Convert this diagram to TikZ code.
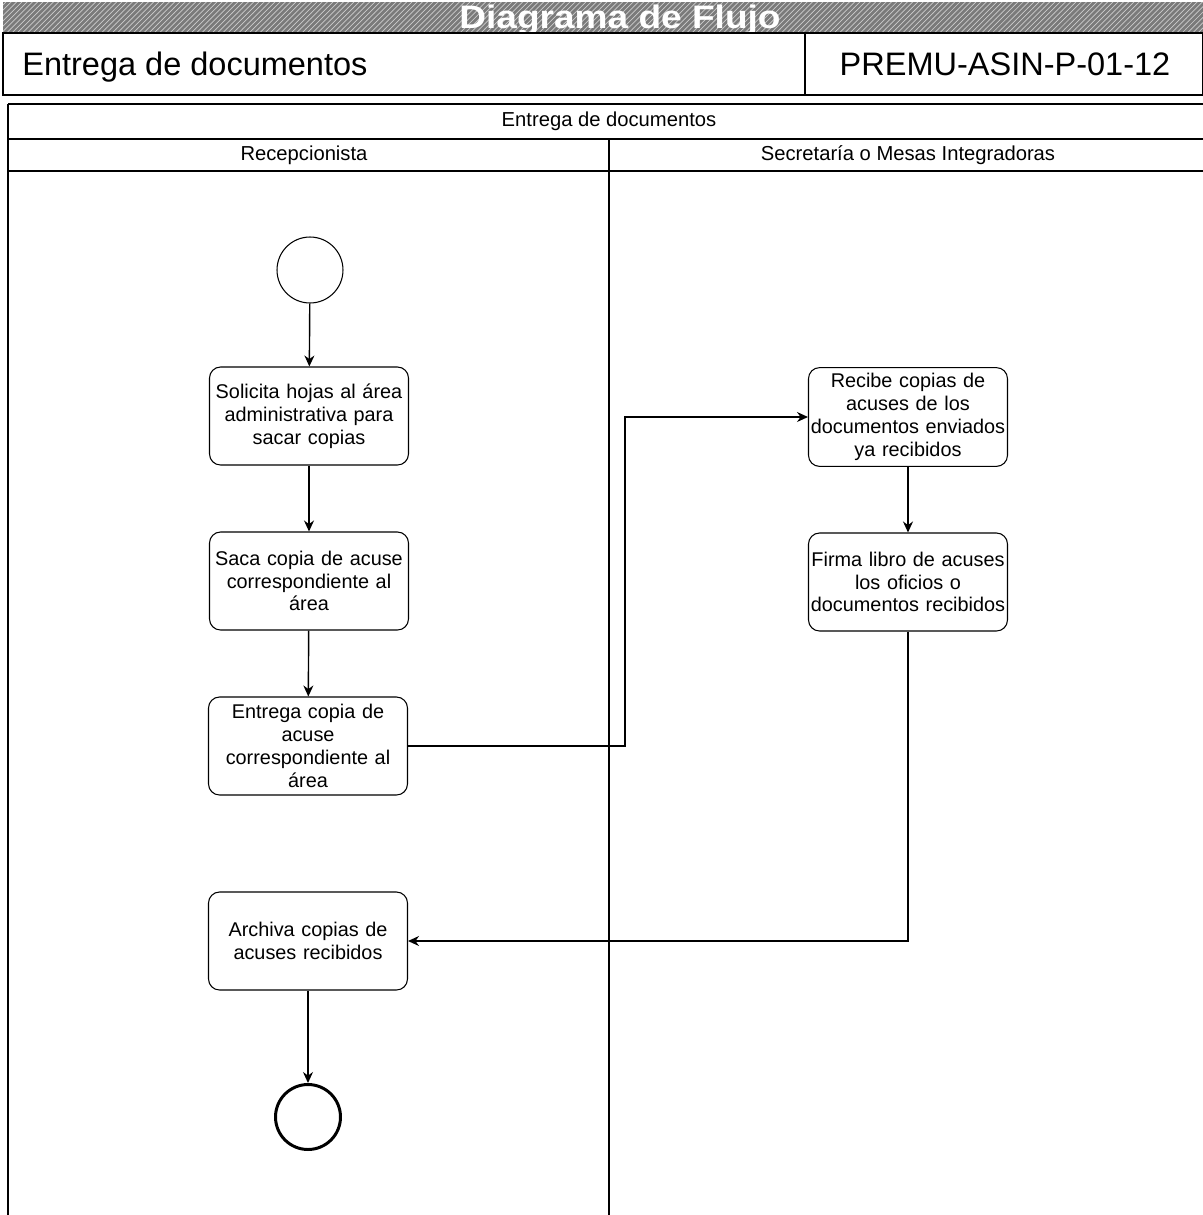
\documentclass[tikz,border=0pt]{standalone}
\usepackage{fontspec}
\setmainfont{Liberation Sans}
\usetikzlibrary{arrows.meta,patterns}
\definecolor{barra}{HTML}{7A7A7A}

\begin{document}
\begin{tikzpicture}[x=0.02cm, y=-0.02cm,
  actividad/.style={draw, rounded corners=2.2mm, minimum width=3.98cm, minimum height=1.96cm,
                    text width=3.98cm, inner xsep=0pt, align=center, line width=0.6pt,
                    font=\fontsize{11.3}{13}\selectfont},
  inicial/.style={circle, draw, line width=0.6pt, minimum size=1.32cm, inner sep=0pt},
  final/.style={circle, draw, line width=1.7pt, minimum size=1.3cm, inner sep=0pt},
  flujo/.style={line width=0.8pt, -{Stealth[length=2.2mm, width=2mm]}},
  titulo/.style={font=\fontsize{18.5}{19}\selectfont\bfseries, text=white, inner sep=0pt},
  encabezado/.style={font=\fontsize{18.5}{20}\selectfont, inner sep=0pt},
  carril/.style={font=\fontsize{11.5}{13}\selectfont},
  linea/.style={line width=0.6pt},
]

\useasboundingbox (0,0) rectangle (1203,1215);

% barra de titulo
\fill[barra] (3,2) rectangle (1203,33);
\fill[pattern=north east lines, pattern color=black!20] (3,2) rectangle (1203,33);
\node[titulo, anchor=base] (titulo) at (620,28) {\scalebox{1.14}[1]{Diagrama de Flujo}};

% datos del procedimiento
\draw[linea] (3,33) rectangle (1203,95);
\draw[linea] (805,33) -- (805,95);
\node[encabezado, anchor=base west] (proceso) at (22,75) {Entrega de documentos};
\node[encabezado, anchor=base] (clave) at (1005,75) {PREMU-ASIN-P-01-12};

% carriles
\draw[line width=1.2pt] (8,104) -- (1203,104);
\draw[linea] (8,104) -- (8,1215);
\draw[line width=0.9pt] (8,139) -- (1203,139);
\draw[line width=0.9pt] (8,171) -- (1203,171);
\draw[linea] (609,139) -- (609,1215);
\node[carril] (tabla) at (609,121) {Entrega de documentos};
\node[carril] (recep) at (304,155) {Recepcionista};
\node[carril] (secre) at (908,155) {Secretaría o Mesas Integradoras};

\node[inicial] (inicio) at (310,270) {};
\node[actividad] (solicita) at (309,416) {Solicita hojas al área\\administrativa para\\sacar copias};
\node[actividad] (saca) at (309,581) {Saca copia de acuse\\correspondiente al\\área};
\node[actividad] (entrega) at (308,746) {Entrega copia de\\acuse\\correspondiente al\\área};
\node[actividad] (archiva) at (308,941) {Archiva copias de\\acuses recibidos};
\node[final] (fin) at (308,1117) {};
\node[actividad] (recibe) at (908,417) {Recibe copias de\\acuses de los\\documentos enviados\\ya recibidos};
\node[actividad] (firma) at (908,582) {Firma libro de acuses\\los oficios o\\documentos recibidos};

\draw[flujo] (inicio) -- (solicita);
\draw[flujo] (solicita) -- (saca);
\draw[flujo] (saca) -- (entrega);
\draw[flujo] (entrega.east) -- ++(217,0) |- (recibe.west);
\draw[flujo] (recibe) -- (firma);
\draw[flujo] (firma.south) |- (archiva.east);
\draw[flujo] (archiva) -- (fin);

\end{tikzpicture}
\end{document}
